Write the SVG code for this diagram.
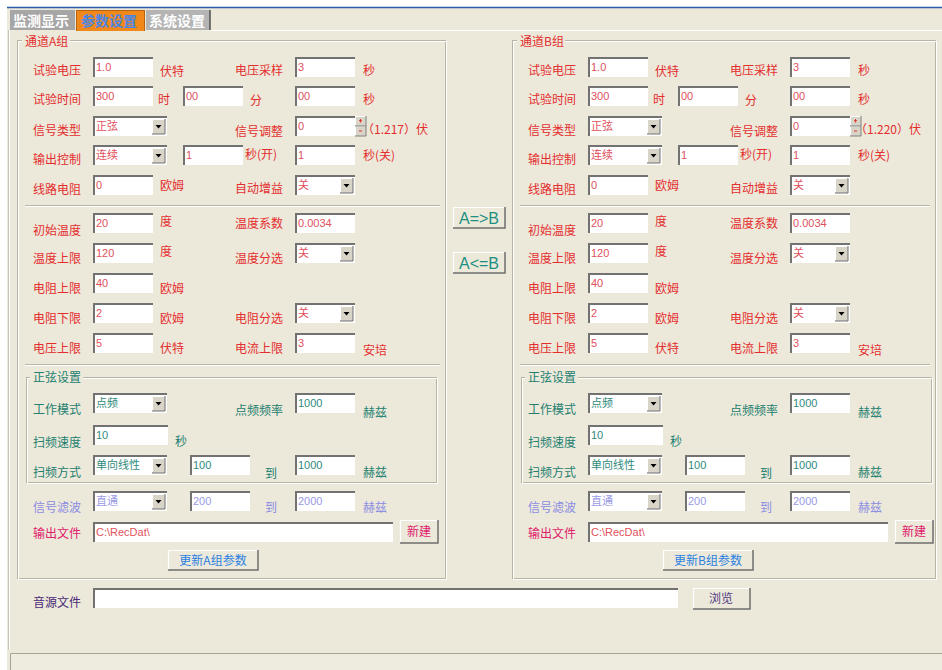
<svg xmlns="http://www.w3.org/2000/svg" xmlns:xlink="http://www.w3.org/1999/xlink" width="942" height="670" viewBox="0 0 942 670">
<style>
.lb{font-family:"Noto Sans CJK SC",sans-serif;font-size:12px;fill:#E42E2E}
.tl{fill:#23806F}
.pu{fill:#8C8CE2}
.pk{fill:#E0206A}
.v{font-family:"Liberation Sans","Noto Sans CJK SC",sans-serif;font-size:11px;fill:#E0505C}
.vt{fill:#2F8A7C}
.vp{fill:#9A9AE6}
.gb{fill:none;stroke:#B8B4A3;stroke-width:1}
.gw{fill:none;stroke:#FFFFFF;stroke-width:1}
.bf{fill:#ECE9DB}
.hi{fill:none;stroke:#FFFFFF;stroke-width:1.2}
.sh{fill:none;stroke:#6E6E6E;stroke-width:1.5}
.bt{font-family:"Noto Sans CJK SC",sans-serif;font-size:12px;text-anchor:middle}
.tab{font-family:"Noto Sans CJK SC",sans-serif;font-size:14px;font-weight:bold}
</style>
<defs>
<g id="ed60"><rect width="60" height="20" fill="#fff"/><path d="M1,20V1H60" fill="none" stroke="#727272" stroke-width="2"/></g>
<g id="ed75"><rect width="75" height="20" fill="#fff"/><path d="M1,20V1H75" fill="none" stroke="#727272" stroke-width="2"/></g>
<g id="cb74"><rect width="74" height="20" fill="#fff"/><path d="M1,20V1H74" fill="none" stroke="#727272" stroke-width="2"/><rect x="59" y="3" width="13" height="15" fill="#D8D4C8"/><path d="M59.5,17.5V3.5H71.5" fill="none" stroke="#fff"/><path d="M72,3V18H59" fill="none" stroke="#707070"/><path d="M62.5,9H68.5L65.5,12.5Z" fill="#000"/></g>
<g id="cb60"><rect width="60" height="20" fill="#fff"/><path d="M1,20V1H60" fill="none" stroke="#727272" stroke-width="2"/><rect x="45" y="3" width="13" height="15" fill="#D8D4C8"/><path d="M45.5,17.5V3.5H57.5" fill="none" stroke="#fff"/><path d="M58,3V18H45" fill="none" stroke="#707070"/><path d="M48.5,9H54.5L51.5,12.5Z" fill="#000"/></g>
<g id="spin"><rect width="11" height="20" fill="#D8D4C8"/><path d="M0.5,9.5V0.5H10.5M0.5,19.5V10.5H10.5" fill="none" stroke="#fff"/><path d="M11,0V10H0M11,10V20H0" fill="none" stroke="#808080"/><path d="M5.5,3V6.5M4,4.7H7M4,15H7" stroke="#E03030" stroke-width="1"/></g>
</defs>

<rect width="942" height="670" fill="#FFFFFF"/>
<rect x="7" y="8" width="935" height="662" fill="#ECE9DB"/>
<path d="M7,7.5H942" stroke="#2A5CA8" stroke-width="1.5"/>
<path d="M8.5,30V650" stroke="#C8C4B4" stroke-width="1"/>
<path d="M9.5,30V650" stroke="#FFFFFF" stroke-width="1"/>
<path d="M210,30.5H942" stroke="#FFFFFF" stroke-width="1"/>

<g id="tabs">
<rect x="10" y="10" width="65" height="20" fill="#A6A6A6"/>
<text x="13" y="26" class="tab" fill="#FFFFFF">监测显示</text>
<rect x="76" y="10" width="69" height="21" fill="#F0891A"/>
<path d="M76.5,31V10.5H144.5V31" fill="none" stroke="#B86210"/>
<text x="81" y="26" class="tab" fill="#4A86E8">参数设置</text>
<rect x="146" y="10" width="64" height="20" fill="#B4B4B4"/>
<path d="M210,10V30" stroke="#505050" stroke-width="1.5"/>
<text x="149" y="26" class="tab" fill="#FFFFFF">系统设置</text>
</g>

<g id="groupA">
<rect x="17.5" y="40.5" width="428" height="538" class="gb"/>
<rect x="18.5" y="41.5" width="428" height="538" class="gw"/>
<rect x="22" y="34" width="48" height="14" class="bf"/>
<text x="25" y="46" class="lb">通道A组</text>

<text x="33" y="75" class="lb">试验电压</text>
<use xlink:href="#ed60" x="93" y="57"/><text x="96" y="71" class="v">1.0</text>
<text x="160" y="76" class="lb">伏特</text>
<text x="235" y="75" class="lb">电压采样</text>
<use xlink:href="#ed60" x="295" y="57"/><text x="298" y="71" class="v">3</text>
<text x="363" y="75" class="lb">秒</text>

<text x="33" y="104" class="lb">试验时间</text>
<use xlink:href="#ed60" x="93" y="86"/><text x="96" y="100" class="v">300</text>
<text x="158" y="104" class="lb">时</text>
<use xlink:href="#ed60" x="183" y="86"/><text x="186" y="100" class="v">00</text>
<text x="250" y="105" class="lb">分</text>
<use xlink:href="#ed60" x="295" y="86"/><text x="298" y="100" class="v">00</text>
<text x="363" y="104" class="lb">秒</text>

<text x="33" y="135" class="lb">信号类型</text>
<use xlink:href="#cb74" x="93" y="116"/><text x="96" y="130" class="v">正弦</text>
<text x="235" y="136" class="lb">信号调整</text>
<use xlink:href="#ed60" x="295" y="116"/><text x="298" y="130" class="v">0</text>
<use xlink:href="#spin" x="355" y="116"/>
<text x="362" y="134" class="lb">（1.217）伏</text>

<text x="33" y="164" class="lb">输出控制</text>
<use xlink:href="#cb74" x="93" y="145"/><text x="96" y="159" class="v">连续</text>
<use xlink:href="#ed60" x="183" y="145"/><text x="186" y="159" class="v">1</text>
<text x="245" y="159" class="lb">秒(开)</text>
<use xlink:href="#ed60" x="295" y="145"/><text x="298" y="159" class="v">1</text>
<text x="363" y="160" class="lb">秒(关)</text>

<text x="33" y="194" class="lb">线路电阻</text>
<use xlink:href="#ed60" x="93" y="175"/><text x="96" y="189" class="v">0</text>
<text x="160" y="190" class="lb">欧姆</text>
<text x="235" y="193" class="lb">自动增益</text>
<use xlink:href="#cb60" x="295" y="175"/><text x="298" y="189" class="v">关</text>

<path d="M25,205.5H440" class="gb"/><path d="M25,206.5H440" class="gw"/>

<text x="33" y="235" class="lb">初始温度</text>
<use xlink:href="#ed60" x="93" y="213"/><text x="96" y="227" class="v">20</text>
<text x="160" y="226" class="lb">度</text>
<text x="235" y="228" class="lb">温度系数</text>
<use xlink:href="#ed60" x="295" y="213"/><text x="298" y="227" class="v">0.0034</text>

<text x="33" y="263" class="lb">温度上限</text>
<use xlink:href="#ed60" x="93" y="243"/><text x="96" y="257" class="v">120</text>
<text x="160" y="256" class="lb">度</text>
<text x="235" y="263" class="lb">温度分选</text>
<use xlink:href="#cb60" x="295" y="243"/><text x="298" y="257" class="v">关</text>

<text x="33" y="293" class="lb">电阻上限</text>
<use xlink:href="#ed60" x="93" y="273"/><text x="96" y="287" class="v">40</text>
<text x="160" y="293" class="lb">欧姆</text>

<text x="33" y="323" class="lb">电阻下限</text>
<use xlink:href="#ed60" x="93" y="303"/><text x="96" y="317" class="v">2</text>
<text x="160" y="323" class="lb">欧姆</text>
<text x="235" y="323" class="lb">电阻分选</text>
<use xlink:href="#cb60" x="295" y="303"/><text x="298" y="317" class="v">关</text>

<text x="33" y="353" class="lb">电压上限</text>
<use xlink:href="#ed60" x="93" y="333"/><text x="96" y="347" class="v">5</text>
<text x="160" y="353" class="lb">伏特</text>
<text x="235" y="353" class="lb">电流上限</text>
<use xlink:href="#ed60" x="295" y="333"/><text x="298" y="347" class="v">3</text>
<text x="363" y="355" class="lb">安培</text>

<path d="M25,364.5H440" class="gb"/><path d="M25,365.5H440" class="gw"/>

<rect x="26.5" y="377.5" width="410" height="105" class="gb"/>
<rect x="27.5" y="378.5" width="410" height="105" class="gw"/>
<rect x="30" y="371" width="53" height="13" class="bf"/>
<text x="33" y="382" class="lb tl">正弦设置</text>

<text x="33" y="414" class="lb tl">工作模式</text>
<use xlink:href="#cb74" x="93" y="393"/><text x="96" y="407" class="v vt">点频</text>
<text x="235" y="415" class="lb tl">点频频率</text>
<use xlink:href="#ed60" x="295" y="393"/><text x="298" y="407" class="v vt">1000</text>
<text x="363" y="417" class="lb tl">赫兹</text>

<text x="33" y="447" class="lb tl">扫频速度</text>
<use xlink:href="#ed75" x="93" y="425"/><text x="96" y="439" class="v vt">10</text>
<text x="175" y="446" class="lb tl">秒</text>

<text x="33" y="477" class="lb tl">扫频方式</text>
<use xlink:href="#cb74" x="93" y="455"/><text x="96" y="469" class="v vt">单向线性</text>
<use xlink:href="#ed60" x="190" y="455"/><text x="193" y="469" class="v vt">100</text>
<text x="265" y="478" class="lb tl">到</text>
<use xlink:href="#ed60" x="295" y="455"/><text x="298" y="469" class="v vt">1000</text>
<text x="363" y="477" class="lb tl">赫兹</text>

<text x="33" y="512" class="lb pu">信号滤波</text>
<use xlink:href="#cb74" x="93" y="491"/><text x="96" y="505" class="v vp">直通</text>
<use xlink:href="#ed60" x="190" y="491"/><text x="193" y="505" class="v vp">200</text>
<text x="265" y="512" class="lb pu">到</text>
<use xlink:href="#ed60" x="295" y="491"/><text x="298" y="505" class="v vp">2000</text>
<text x="363" y="512" class="lb pu">赫兹</text>

<text x="33" y="538" class="lb pk">输出文件</text>
<rect x="93" y="522" width="300" height="20" fill="#fff"/><path d="M94,542V523H393" fill="none" stroke="#727272" stroke-width="2"/>
<text x="96" y="536" class="v">C:\RecDat\</text>
<rect x="400" y="520" width="38" height="23" class="bf"/><path d="M400.5,543V520.5H438" class="hi"/><path d="M438,520V543H400" class="sh"/>
<text x="419" y="536" class="bt pk">新建</text>

<rect x="168" y="550" width="90" height="20" class="bf"/><path d="M168.5,570V550.5H258" class="hi"/><path d="M258,550V570H168" class="sh"/>
<text x="213" y="565" class="bt" fill="#2A7FE0">更新A组参数</text>
</g>

<g id="groupB" transform="translate(495,0)">
<rect x="17.5" y="40.5" width="423" height="538" class="gb"/>
<rect x="18.5" y="41.5" width="423" height="538" class="gw"/>
<rect x="22" y="34" width="48" height="14" class="bf"/>
<text x="25" y="46" class="lb">通道B组</text>

<text x="33" y="75" class="lb">试验电压</text>
<use xlink:href="#ed60" x="93" y="57"/><text x="96" y="71" class="v">1.0</text>
<text x="160" y="76" class="lb">伏特</text>
<text x="235" y="75" class="lb">电压采样</text>
<use xlink:href="#ed60" x="295" y="57"/><text x="298" y="71" class="v">3</text>
<text x="363" y="75" class="lb">秒</text>

<text x="33" y="104" class="lb">试验时间</text>
<use xlink:href="#ed60" x="93" y="86"/><text x="96" y="100" class="v">300</text>
<text x="158" y="104" class="lb">时</text>
<use xlink:href="#ed60" x="183" y="86"/><text x="186" y="100" class="v">00</text>
<text x="250" y="105" class="lb">分</text>
<use xlink:href="#ed60" x="295" y="86"/><text x="298" y="100" class="v">00</text>
<text x="363" y="104" class="lb">秒</text>

<text x="33" y="135" class="lb">信号类型</text>
<use xlink:href="#cb74" x="93" y="116"/><text x="96" y="130" class="v">正弦</text>
<text x="235" y="136" class="lb">信号调整</text>
<use xlink:href="#ed60" x="295" y="116"/><text x="298" y="130" class="v">0</text>
<use xlink:href="#spin" x="355" y="116"/>
<text x="360" y="134" class="lb">（1.220）伏</text>

<text x="33" y="164" class="lb">输出控制</text>
<use xlink:href="#cb74" x="93" y="145"/><text x="96" y="159" class="v">连续</text>
<use xlink:href="#ed60" x="183" y="145"/><text x="186" y="159" class="v">1</text>
<text x="245" y="159" class="lb">秒(开)</text>
<use xlink:href="#ed60" x="295" y="145"/><text x="298" y="159" class="v">1</text>
<text x="363" y="160" class="lb">秒(关)</text>

<text x="33" y="194" class="lb">线路电阻</text>
<use xlink:href="#ed60" x="93" y="175"/><text x="96" y="189" class="v">0</text>
<text x="160" y="190" class="lb">欧姆</text>
<text x="235" y="193" class="lb">自动增益</text>
<use xlink:href="#cb60" x="295" y="175"/><text x="298" y="189" class="v">关</text>

<path d="M25,205.5H435" class="gb"/><path d="M25,206.5H435" class="gw"/>

<text x="33" y="235" class="lb">初始温度</text>
<use xlink:href="#ed60" x="93" y="213"/><text x="96" y="227" class="v">20</text>
<text x="160" y="226" class="lb">度</text>
<text x="235" y="228" class="lb">温度系数</text>
<use xlink:href="#ed60" x="295" y="213"/><text x="298" y="227" class="v">0.0034</text>

<text x="33" y="263" class="lb">温度上限</text>
<use xlink:href="#ed60" x="93" y="243"/><text x="96" y="257" class="v">120</text>
<text x="160" y="256" class="lb">度</text>
<text x="235" y="263" class="lb">温度分选</text>
<use xlink:href="#cb60" x="295" y="243"/><text x="298" y="257" class="v">关</text>

<text x="33" y="293" class="lb">电阻上限</text>
<use xlink:href="#ed60" x="93" y="273"/><text x="96" y="287" class="v">40</text>
<text x="160" y="293" class="lb">欧姆</text>

<text x="33" y="323" class="lb">电阻下限</text>
<use xlink:href="#ed60" x="93" y="303"/><text x="96" y="317" class="v">2</text>
<text x="160" y="323" class="lb">欧姆</text>
<text x="235" y="323" class="lb">电阻分选</text>
<use xlink:href="#cb60" x="295" y="303"/><text x="298" y="317" class="v">关</text>

<text x="33" y="353" class="lb">电压上限</text>
<use xlink:href="#ed60" x="93" y="333"/><text x="96" y="347" class="v">5</text>
<text x="160" y="353" class="lb">伏特</text>
<text x="235" y="353" class="lb">电流上限</text>
<use xlink:href="#ed60" x="295" y="333"/><text x="298" y="347" class="v">3</text>
<text x="363" y="355" class="lb">安培</text>

<path d="M25,364.5H435" class="gb"/><path d="M25,365.5H435" class="gw"/>

<rect x="26.5" y="377.5" width="410" height="105" class="gb"/>
<rect x="27.5" y="378.5" width="410" height="105" class="gw"/>
<rect x="30" y="371" width="53" height="13" class="bf"/>
<text x="33" y="382" class="lb tl">正弦设置</text>

<text x="33" y="414" class="lb tl">工作模式</text>
<use xlink:href="#cb74" x="93" y="393"/><text x="96" y="407" class="v vt">点频</text>
<text x="235" y="415" class="lb tl">点频频率</text>
<use xlink:href="#ed60" x="295" y="393"/><text x="298" y="407" class="v vt">1000</text>
<text x="363" y="417" class="lb tl">赫兹</text>

<text x="33" y="447" class="lb tl">扫频速度</text>
<use xlink:href="#ed75" x="93" y="425"/><text x="96" y="439" class="v vt">10</text>
<text x="175" y="446" class="lb tl">秒</text>

<text x="33" y="477" class="lb tl">扫频方式</text>
<use xlink:href="#cb74" x="93" y="455"/><text x="96" y="469" class="v vt">单向线性</text>
<use xlink:href="#ed60" x="190" y="455"/><text x="193" y="469" class="v vt">100</text>
<text x="265" y="478" class="lb tl">到</text>
<use xlink:href="#ed60" x="295" y="455"/><text x="298" y="469" class="v vt">1000</text>
<text x="363" y="477" class="lb tl">赫兹</text>

<text x="33" y="512" class="lb pu">信号滤波</text>
<use xlink:href="#cb74" x="93" y="491"/><text x="96" y="505" class="v vp">直通</text>
<use xlink:href="#ed60" x="190" y="491"/><text x="193" y="505" class="v vp">200</text>
<text x="265" y="512" class="lb pu">到</text>
<use xlink:href="#ed60" x="295" y="491"/><text x="298" y="505" class="v vp">2000</text>
<text x="363" y="512" class="lb pu">赫兹</text>

<text x="33" y="538" class="lb pk">输出文件</text>
<rect x="93" y="522" width="300" height="20" fill="#fff"/><path d="M94,542V523H393" fill="none" stroke="#727272" stroke-width="2"/>
<text x="96" y="536" class="v">C:\RecDat\</text>
<rect x="400" y="520" width="38" height="23" class="bf"/><path d="M400.5,543V520.5H438" class="hi"/><path d="M438,520V543H400" class="sh"/>
<text x="419" y="536" class="bt pk">新建</text>

<rect x="168" y="550" width="90" height="20" class="bf"/><path d="M168.5,570V550.5H258" class="hi"/><path d="M258,550V570H168" class="sh"/>
<text x="213" y="565" class="bt" fill="#2A7FE0">更新B组参数</text>
</g>

<g id="copyAtoB">
<rect x="453" y="207" width="52" height="21" class="bf"/><path d="M453.5,228V207.5H505" class="hi"/><path d="M505,207V228H453" class="sh"/>
<text x="479" y="224" text-anchor="middle" font-family="Liberation Sans,sans-serif" font-size="16" fill="#1E9080">A=&gt;B</text>
</g>
<g id="copyBtoA">
<rect x="453" y="252" width="52" height="21" class="bf"/><path d="M453.5,273V252.5H505" class="hi"/><path d="M505,252V273H453" class="sh"/>
<text x="479" y="269" text-anchor="middle" font-family="Liberation Sans,sans-serif" font-size="16" fill="#1E9080">A&lt;=B</text>
</g>

<g id="sourceFile">
<text x="33" y="607" class="lb" fill="#4A2A78" style="fill:#4A2A78">音源文件</text>
<rect x="93" y="588" width="585" height="20" fill="#fff"/><path d="M94,608V589H678" fill="none" stroke="#727272" stroke-width="2"/>
<rect x="693" y="588" width="57" height="21" class="bf"/><path d="M693.5,609V588.5H750" class="hi"/><path d="M750,588V609H693" class="sh"/>
<text x="721" y="603" class="bt" fill="#503A80">浏览</text>
</g>

<g id="statusbar">
<rect x="10" y="653" width="932" height="17" fill="#EEEBDF"/>
<path d="M10.5,670V653.5H942" fill="none" stroke="#A8A498"/>
</g>
</svg>
